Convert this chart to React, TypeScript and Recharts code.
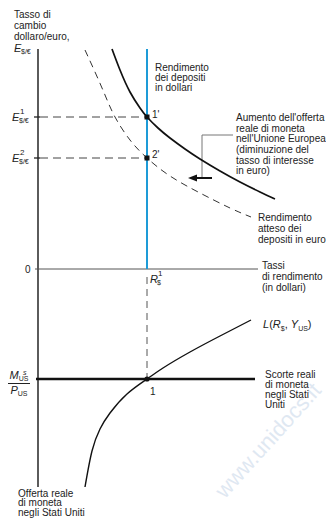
import React from 'react';
import { ComposedChart, Line, XAxis, YAxis, ReferenceLine, ReferenceDot } from 'recharts';

// Rendimento atteso dei depositi in euro (curva iniziale, continua)
const euroReturnX = [7.4, 8.2, 9.2, 10.2, 10.9, 12.0, 13.2, 14.7, 16.2, 18.2, 20.2, 22.2, 23.7];
const euroReturnY = [22.0, 19.9, 17.7, 16.1, 15.2, 14.1, 13.1, 12.0, 11.0, 9.8, 8.7, 7.7, 7.0];
// dopo l'aumento dell'offerta di moneta UE (tratteggiata)
const euroReturn2X = [4.7, 5.7, 6.7, 7.7, 9.2, 10.9, 13.2, 16.2, 19.2, 21.3];
const euroReturn2Y = [21.9, 19.7, 17.4, 15.2, 12.9, 11.1, 9.3, 7.6, 6.1, 5.2];
// domanda di moneta L(R, Y) nel quadrante inferiore (verso il basso = piu' moneta)
const moneyDemandX = [4.7, 5.4, 6.2, 7.2, 8.9, 10.9, 12.5, 15.2, 18.2, 21.3];
const moneyDemandY = [-21.8, -18.2, -16.0, -14.4, -12.5, -11.0, -9.9, -8.3, -6.7, -5.1];

const R1 = 10.9; // rendimento dei depositi in dollari
const E1 = 15.2;
const E2 = 11.1;
const realMoney = -11.0; // M/P negli Stati Uniti
const axisTop = 22.0;
const axisBottom = -21.8;
const returnAxisEnd = 22.0;
const moneyLineEnd = 21.7;
// freccia dello spostamento della curva
const shiftFrom = 17.4;
const shiftTo = 15.0;
const shiftY = 9.1;
const leaderX = 16.4;
const leaderTop = 13.4;
const leaderEnd = 19.5;

const toPts = (xs: number[], ys: number[]) => xs.map((x, i) => ({ x, y: ys[i] }));
const euroReturn = toPts(euroReturnX, euroReturnY);
const euroReturn2 = toPts(euroReturn2X, euroReturn2Y);
const moneyDemand = toPts(moneyDemandX, moneyDemandY);

const FONT = '"Liberation Sans", Arial, Helvetica, sans-serif';
const INK = '#222';

const Block = ({ x, base, lines, lh = 10.5, size = 10 }: { x: number; base: number; lines: string[]; lh?: number; size?: number }) => (
  <div
    style={{
      position: 'absolute',
      left: x,
      top: base - (lh - size * 1.117) / 2 - size * 0.905,
      fontSize: size,
      lineHeight: `${lh}px`,
      whiteSpace: 'nowrap',
      color: INK,
    }}
  >
    {lines.map((l, i) => (
      <div key={i}>{l}</div>
    ))}
  </div>
);

// simbolo con apice e pedice sovrapposti
const Sym = ({ x, base, main, sup, sub }: { x: number; base: number; main: string; sup?: string; sub?: string }) => (
  <div style={{ position: 'absolute', left: x, top: base - 10, height: 12, fontSize: 11, lineHeight: '12px', color: INK, whiteSpace: 'nowrap' }}>
    <span style={{ fontStyle: 'italic' }}>{main}</span>
    {sup && <span style={{ position: 'absolute', left: main.length * 7 + 1, top: -5, fontSize: 8 }}>{sup}</span>}
    {sub && <span style={{ position: 'absolute', left: main.length * 7, top: 4, fontSize: 7 }}>{sub}</span>}
  </div>
);

const Square = (p: any) => <rect x={p.cx - 2.5} y={p.cy - 2.5} width={5} height={5} fill="#111" />;
const Dot = (p: any) => <circle cx={p.cx} cy={p.cy} r={2.6} fill="#111" />;
const ArrowHead = (p: any) => (
  <polygon points={`${p.cx},${p.cy} ${p.cx + 9},${p.cy - 3.5} ${p.cx + 9},${p.cy + 3.5}`} fill="#111" />
);

export default function App() {
  return (
    <div style={{ position: 'relative', width: 326, height: 520, overflow: 'hidden', fontFamily: FONT, background: '#fff' }}>
      <style>{'body{margin:0}'}</style>
      <div
        style={{
          position: 'absolute',
          left: 210,
          top: 486,
          fontSize: 22,
          color: '#dfe8f2',
          transform: 'rotate(-48deg)',
          transformOrigin: 'left top',
          whiteSpace: 'nowrap',
        }}
      >
        www.unidocs.it
      </div>
      <ComposedChart width={326} height={520} margin={{ top: 0, right: 0, bottom: 0, left: 0 }} style={{ position: 'absolute', left: 0, top: 0 }}>
        <XAxis type="number" dataKey="x" domain={[-3.8, 28.8]} hide allowDataOverflow />
        <YAxis type="number" dataKey="y" domain={[-25.1, 26.9]} hide allowDataOverflow />

        {/* assi */}
        <ReferenceLine segment={[{ x: 0, y: axisBottom }, { x: 0, y: axisTop }]} stroke="#333" strokeWidth={1.6} />
        <ReferenceLine segment={[{ x: -0.3, y: 0 }, { x: returnAxisEnd, y: 0 }]} stroke="#555" strokeWidth={1} />
        <ReferenceLine segment={[{ x: -0.2, y: realMoney }, { x: moneyLineEnd, y: realMoney }]} stroke="#111" strokeWidth={2.6} />
        <ReferenceLine segment={[{ x: R1, y: 0 }, { x: R1, y: axisTop }]} stroke="#1e9bd7" strokeWidth={2} />

        {/* equilibri sul tasso di cambio */}
        <ReferenceLine segment={[{ x: 0.2, y: E1 }, { x: R1, y: E1 }]} stroke="#444" strokeDasharray="8 5" />
        <ReferenceLine segment={[{ x: 0.2, y: E2 }, { x: R1, y: E2 }]} stroke="#444" strokeDasharray="8 5" />
        <ReferenceLine segment={[{ x: -0.4, y: E1 }, { x: 0.2, y: E1 }]} stroke="#222" strokeWidth={1.3} />
        <ReferenceLine segment={[{ x: -0.4, y: E2 }, { x: 0.2, y: E2 }]} stroke="#222" strokeWidth={1.3} />
        <ReferenceLine segment={[{ x: R1, y: -0.8 }, { x: R1, y: realMoney }]} stroke="#555" strokeDasharray="7 5" />

        {/* freccia e richiamo */}
        <ReferenceLine segment={[{ x: leaderX, y: shiftY }, { x: leaderX, y: leaderTop }]} stroke="#777" strokeWidth={1} />
        <ReferenceLine segment={[{ x: leaderX, y: leaderTop }, { x: leaderEnd, y: leaderTop }]} stroke="#777" strokeWidth={1} />
        <ReferenceLine segment={[{ x: shiftTo + 0.6, y: shiftY }, { x: shiftFrom, y: shiftY }]} stroke="#111" strokeWidth={2} />
        <ReferenceDot x={shiftTo} y={shiftY} r={0} shape={ArrowHead} />

        <Line data={euroReturn2} dataKey="y" type="natural" dot={false} activeDot={false} stroke="#333" strokeWidth={1} strokeDasharray="7 5" isAnimationActive={false} />
        <Line data={euroReturn} dataKey="y" type="natural" dot={false} activeDot={false} stroke="#111" strokeWidth={1.7} isAnimationActive={false} />
        <Line data={moneyDemand} dataKey="y" type="natural" dot={false} activeDot={false} stroke="#111" strokeWidth={1.4} isAnimationActive={false} />

        {/* punti di equilibrio 1', 2' e 1 */}
        <ReferenceDot x={R1} y={E1} r={0} shape={Square} />
        <ReferenceDot x={R1} y={E2} r={0} shape={Square} />
        <ReferenceDot x={R1} y={realMoney} r={0} shape={Dot} />
      </ComposedChart>

      <Block x={14} base={18} lh={11} lines={['Tasso di', 'cambio', 'dollaro/euro,']} />
      <Sym x={14} base={52} main="E" sub="$/€" />
      <Sym x={12} base={121} main="E" sup="1" sub="$/€" />
      <Sym x={12} base={162} main="E" sup="2" sub="$/€" />
      <Block x={25} base={274} lines={['0']} />

      <div style={{ position: 'absolute', left: 8, top: 370, width: 22, textAlign: 'center', color: INK, fontSize: 11 }}>
        <div style={{ borderBottom: '1px solid #222', lineHeight: '11px', paddingBottom: 1 }}>
          <i>M</i>
          <sub style={{ fontSize: 7, verticalAlign: 'baseline', position: 'relative', top: 2 }}>US</sub>
          <sup style={{ fontSize: 7, position: 'absolute', left: 15, top: -3, fontStyle: 'italic' }}>s</sup>
        </div>
        <div style={{ lineHeight: '12px' }}>
          <i>P</i>
          <sub style={{ fontSize: 7, verticalAlign: 'baseline', position: 'relative', top: 2 }}>US</sub>
        </div>
      </div>

      <Block x={155} base={71} lh={10} lines={['Rendimento', 'dei depositi', 'in dollari']} />
      <Block x={152} base={119} lines={["1'"]} />
      <Block x={152} base={159} lines={["2'"]} />
      <Block
        x={236}
        base={122}
        lh={10.6}
        lines={["Aumento dell'offerta", 'reale di moneta', "nell'Unione Europea", '(diminuzione del', 'tasso di interesse', 'in euro)']}
      />
      <Block x={258} base={221} lh={11} lines={['Rendimento', 'atteso dei', 'depositi in euro']} />
      <Block x={262} base={269} lh={11} lines={['Tassi', 'di rendimento', '(in dollari)']} />
      <Sym x={150} base={283} main="R" sup="1" sub="$" />

      <div style={{ position: 'absolute', left: 263, top: 318, fontSize: 11, lineHeight: '12px', color: INK, whiteSpace: 'nowrap' }}>
        <i>L</i>(<i>R</i>
        <sub style={{ fontSize: 7 }}>$</sub>, <i>Y</i>
        <sub style={{ fontSize: 7 }}>US</sub>)
      </div>

      <Block x={150} base={396} lines={['1']} />
      <Block x={265} base={378} lh={10} lines={['Scorte reali', 'di moneta', 'negli Stati', 'Uniti']} />
      <Block x={18} base={497} lh={9.8} lines={['Offerta reale', 'di moneta', 'negli Stati Uniti']} />
    </div>
  );
}
